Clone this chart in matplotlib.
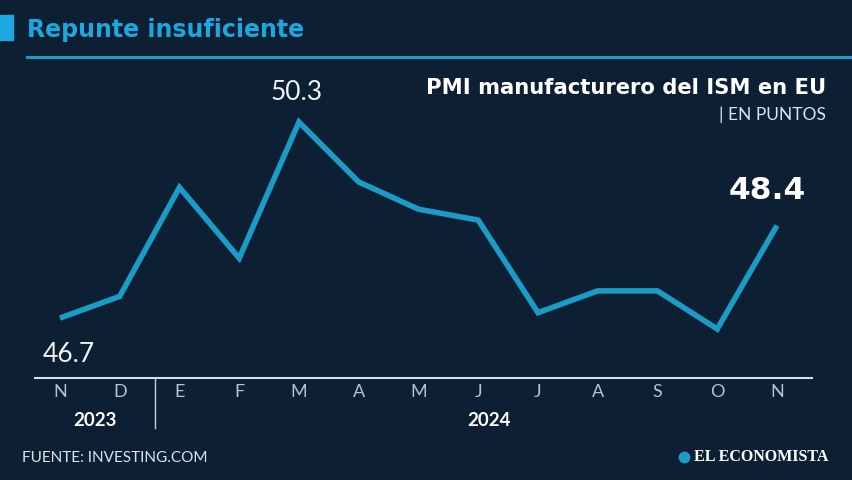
import matplotlib
matplotlib.use("Agg")
from matplotlib import pyplot as plt
from matplotlib.lines import Line2D
from matplotlib.patches import Rectangle

# datos
months = ["N", "D", "E", "F", "M", "A", "M", "J", "J", "A", "S", "O", "N"]
pmi = [46.7, 47.1, 49.1, 47.8, 50.3, 49.2, 48.7, 48.5, 46.8, 47.2, 47.2, 46.5, 48.4]
years = ["2023", "2024"]

bg = "#0c1f33"
blue = "#1a9cc7"
title_blue = "#1ba8e0"
light = "#c9d2dc"

fig = plt.figure(figsize=(8.53, 4.8), dpi=100, facecolor=bg)
ax = fig.add_axes([35 / 853, 1 - 378 / 480, 777 / 853, 318 / 480])
ax.set_facecolor(bg)

x = list(range(len(pmi)))
ax.plot(x, pmi, color=blue, lw=4, solid_capstyle="butt", solid_joinstyle="miter")
ax.set_xlim(-0.418, 12.586)
ax.set_ylim(45.6, 51.44)

for s in ["top", "right", "left"]:
    ax.spines[s].set_visible(False)
ax.spines["bottom"].set_color("#d5dde5")
ax.spines["bottom"].set_linewidth(1.5)
ax.set_yticks([])
ax.set_xticks(x)
ax.set_xticklabels(months, color="#b9c3cd", fontsize=13, family="Lato")
ax.tick_params(axis="x", length=0, pad=4)

# etiquetas de valores
ax.annotate(f"{pmi[4]}", (4, pmi[4]), xytext=(-2, 12), textcoords="offset points",
            ha="center", va="bottom", color="#eef2f5", fontsize=19, family="Lato")
ax.annotate(f"{pmi[0]}", (0, pmi[0]), xytext=(6, -17), textcoords="offset points",
            ha="center", va="top", color="#eef2f5", fontsize=19, family="Lato")
ax.annotate(f"{pmi[-1]}", (12, pmi[-1]), xytext=(-7, 15), textcoords="offset points",
            ha="center", va="bottom", color="white", fontsize=22.5, fontweight="bold",
            family="DejaVu Sans")

# años
fig.text(95 / 853, 1 - 420 / 480, years[0], color="white", fontsize=13.5, fontweight="bold",
         ha="center", va="center", family="Lato")
fig.text(489 / 853, 1 - 420 / 480, years[1], color="white", fontsize=13.5, fontweight="bold",
         ha="center", va="center", family="Lato")
fig.add_artist(Line2D([155 / 853, 155 / 853], [1 - 379 / 480, 1 - 428 / 480], color=light, lw=1))

# título
fig.add_artist(Rectangle((0, 1 - 40 / 480), 13 / 853, 25 / 480, color=title_blue))
fig.text(27 / 853, 1 - 30 / 480, "Repunte insuficiente", color=title_blue, fontsize=17,
         fontweight="bold", ha="left", va="center", family="DejaVu Sans")
fig.add_artist(Line2D([27 / 853, 1], [1 - 57 / 480, 1 - 57 / 480], color=blue, lw=2.2))

fig.text(826 / 853, 1 - 88 / 480, "PMI manufacturero del ISM en EU", color="white", fontsize=15.2,
         fontweight="bold", ha="right", va="center", family="DejaVu Sans")
fig.text(826 / 853, 1 - 115 / 480, "| EN PUNTOS", color="#dde3e9", fontsize=12.5,
         ha="right", va="center", family="Lato")

# pie
fig.text(22 / 853, 1 - 458 / 480, "FUENTE: INVESTING.COM", color="#dde3e9", fontsize=11,
         ha="left", va="center", family="Lato")
fig.add_artist(Line2D([684 / 853], [1 - 457 / 480], marker="o", markersize=7.5,
                      color=blue, transform=fig.transFigure))
fig.text(694 / 853, 1 - 457 / 480, "EL ECONOMISTA", color="white", fontsize=11.5,
         fontweight="bold", ha="left", va="center", family="Liberation Serif")

fig.savefig("out.png", dpi=100, facecolor=bg)
